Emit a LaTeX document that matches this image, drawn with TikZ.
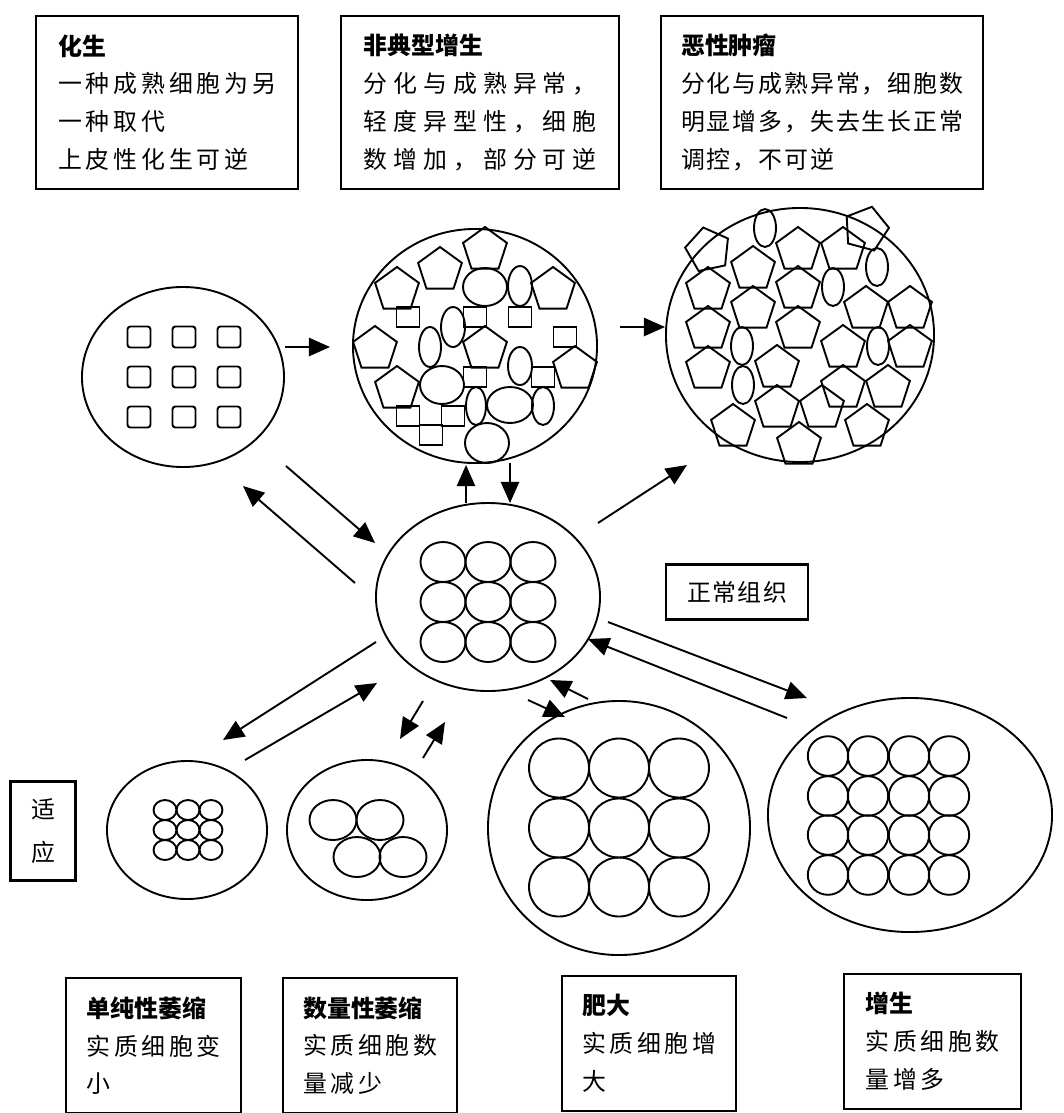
\documentclass[tikz,border=0pt]{standalone}
\usepackage{fontspec}
\setmainfont{Noto Sans CJK SC}
\usetikzlibrary{arrows.meta,shapes.geometric,calc}
\newcommand{\trk}[1]{\addfontfeature{LetterSpace=#1}}
\newcommand{\ttl}[1]{{\addfontfeature{LetterSpace=0}\bfseries #1}}
\newcommand{\pent}[3][0]{\draw (#2,#3) +({-90+#1}:23) -- +({-18+#1}:23) -- +({54+#1}:23) -- +({126+#1}:23) -- +({198+#1}:23) -- cycle;}
\newcommand{\sqc}[2]{\draw (#1,#2) ++(-11.5,-10) rectangle ++(23,20);}
\newcommand{\ovc}[4]{\draw (#1,#2) ellipse [x radius=#3, y radius=#4];}

\begin{document}
\begin{tikzpicture}[x=0.025cm,y=-0.025cm,line width=1.35pt,
 tissue/.style={draw,ellipse,inner sep=0pt},
 info/.style={draw,line width=1.6pt,align=left,anchor=north west,inner sep=0pt,
   font=\fontsize{17pt}{27pt}\selectfont\trk{#1}},
 arr/.style={-{Triangle[length=15pt,width=13pt]}}]
\useasboundingbox (0,0) rectangle (1064,1113);

\node[info=16,minimum width=6.55cm,minimum height=4.325cm] (b1) at (35,15) {\ttl{化生}\\一种成熟细胞为另\\一种取代\\上皮性化生可逆};
\node[info=25,minimum width=6.95cm,minimum height=4.325cm] (b2) at (340,15) {\ttl{非典型增生}\\分化与成熟异常，\\轻度异型性，细胞\\数增加，部分可逆};
\node[info=8,minimum width=8.05cm,minimum height=4.325cm] (b3) at (660,15) {\ttl{恶性肿瘤}\\分化与成熟异常，细胞数\\明显增多，失去生长正常\\调控，不可逆};

\node[tissue,minimum width=5.05cm,minimum height=4.5cm] (meta) at (183,377) {};
\node[tissue,minimum width=6.1cm,minimum height=5.85cm] (atyp) at (475,346) {};
\node[tissue,minimum width=6.7cm,minimum height=6.35cm] (malig) at (800,335) {};
\node[tissue,minimum width=5.6cm,minimum height=4.7cm] (norm) at (488,597) {};
\node[tissue,minimum width=4cm,minimum height=3.45cm] (simp) at (187,830) {};
\node[tissue,minimum width=4cm,minimum height=3.5cm] (quan) at (367,830) {};
\node[tissue,minimum width=6.55cm,minimum height=6.35cm] (hytr) at (619,828) {};
\node[tissue,minimum width=7.1cm,minimum height=5.85cm] (hypl) at (910,815) {};

\node[draw,line width=1.6pt,minimum width=3.55cm,minimum height=1.375cm,
  font=\fontsize{17pt}{27pt}\selectfont\trk{6}] (lbl) at (737,592) {正常组织};
\node[draw,line width=1.6pt,minimum width=1.625cm,minimum height=2.475cm,align=center,
  font=\fontsize{17pt}{30.5pt}\selectfont] (adap) at (43,831) {适\\应};

\node[info=15,minimum width=4.375cm,minimum height=3.375cm] (b4) at (65,977) {\ttl{单纯性萎缩}\\实质细胞变\\小};
\node[info=15,minimum width=4.35cm,minimum height=3.375cm] (b5) at (282,977) {\ttl{数量性萎缩}\\实质细胞数\\量减少};
\node[info=15,minimum width=4.35cm,minimum height=3.375cm] (b6) at (561,975) {\ttl{肥大}\\实质细胞增\\大};
\node[info=15,minimum width=4.425cm,minimum height=3.375cm] (b7) at (843,973) {\ttl{增生}\\实质细胞数\\量增多};

% cells
\foreach \x in {139,184,229} \foreach \y in {337,377,417}
  \draw[rounded corners=2pt] (\x,\y) ++(-11.5,-10.5) rectangle ++(23,21);
\foreach \x/\y in {485/250,440/270,397/290,553/290,375/349,485/349,575/369,397/389} {\pent{\x}{\y}}
\foreach \x/\y in {408/317,475/317,520/317,565/337,475/377,543/377,408/416,453/416,431/435} {\sqc{\x}{\y}}
\foreach \x/\y/\a/\b in {485/287/22/19,520/286/12/20,453/327/12/20,430/347/11/20,520/366/12/19,
  442/385/22/19,476/406/10/19,510/405/23/18,543/406/11/19,487/443/22/20} {\ovc{\x}{\y}{\a}{\b}}
\pent[-12]{708}{250}
\pent[15]{866}{229}
\foreach \x/\y in {753/269,798/250,843/250,708/290,798/289,753/309,708/329,798/329,866/309,910/309,
  843/348,910/348,708/369,777/368,843/388,888/388,777/408,822/408,733/427,867/427,799/445} {\pent{\x}{\y}}
\foreach \x/\y in {765/228,877/267,833/287,742/346,878/346,743/385} {\ovc{\x}{\y}{11}{19}}
\foreach \x in {443,488,533} \foreach \y in {562,602,642} {\ovc{\x}{\y}{22.5}{20}}
\foreach \x in {165,188,211} \foreach \y in {810,830,850} {\ovc{\x}{\y}{11.5}{10}}
\foreach \x/\y in {333/820,380/820,357/857,403/857} {\ovc{\x}{\y}{23.5}{20}}
\foreach \x in {559,619,679} \foreach \y in {768,828,887} {\ovc{\x}{\y}{30}{29.5}}
\foreach \x in {828,868,909,949} \foreach \y in {756,796,835,875} {\ovc{\x}{\y}{20.2}{19.8}}

% transitions
\draw[arr] ($(meta)+(102,-30)$) -- ($(atyp)+(-145,1)$);
\draw[arr] ($(atyp)+(145,-19)$) -- ($(malig)+(-135,-8)$);
\draw[arr] ($(norm)+(-22,-94)$) -- ($(atyp)+(-9,119)$);
\draw[arr] ($(atyp)+(35,117)$) -- ($(norm)+(22,-94)$);
\draw[arr] ($(meta)+(103,89)$) -- ($(norm)+(-113,-54)$);
\draw[arr] ($(norm)+(-133,-14)$) -- ($(meta)+(60,109)$);
\draw[arr] ($(norm)+(110,-74)$) -- ($(malig)+(-113,130)$);
\draw[arr] ($(norm)+(120,25)$) -- ($(hypl)+(-103,-117)$);
\draw[arr] ($(hypl)+(-123,-97)$) -- ($(norm)+(100,42)$);
\draw[arr] ($(hytr)+(-31,-129)$) -- ($(norm)+(62,83)$);
\draw[arr] ($(norm)+(40,103)$) -- ($(hytr)+(-54,-111)$);
\draw[arr] ($(norm)+(-112,45)$) -- ($(simp)+(36,-90)$);
\draw[arr] ($(simp)+(58,-70)$) -- ($(norm)+(-111,86)$);
\draw[arr] ($(norm)+(-65,104)$) -- ($(quan)+(33,-91)$);
\draw[arr] ($(quan)+(56,-72)$) -- ($(norm)+(-43,125)$);
\end{tikzpicture}
\end{document}
